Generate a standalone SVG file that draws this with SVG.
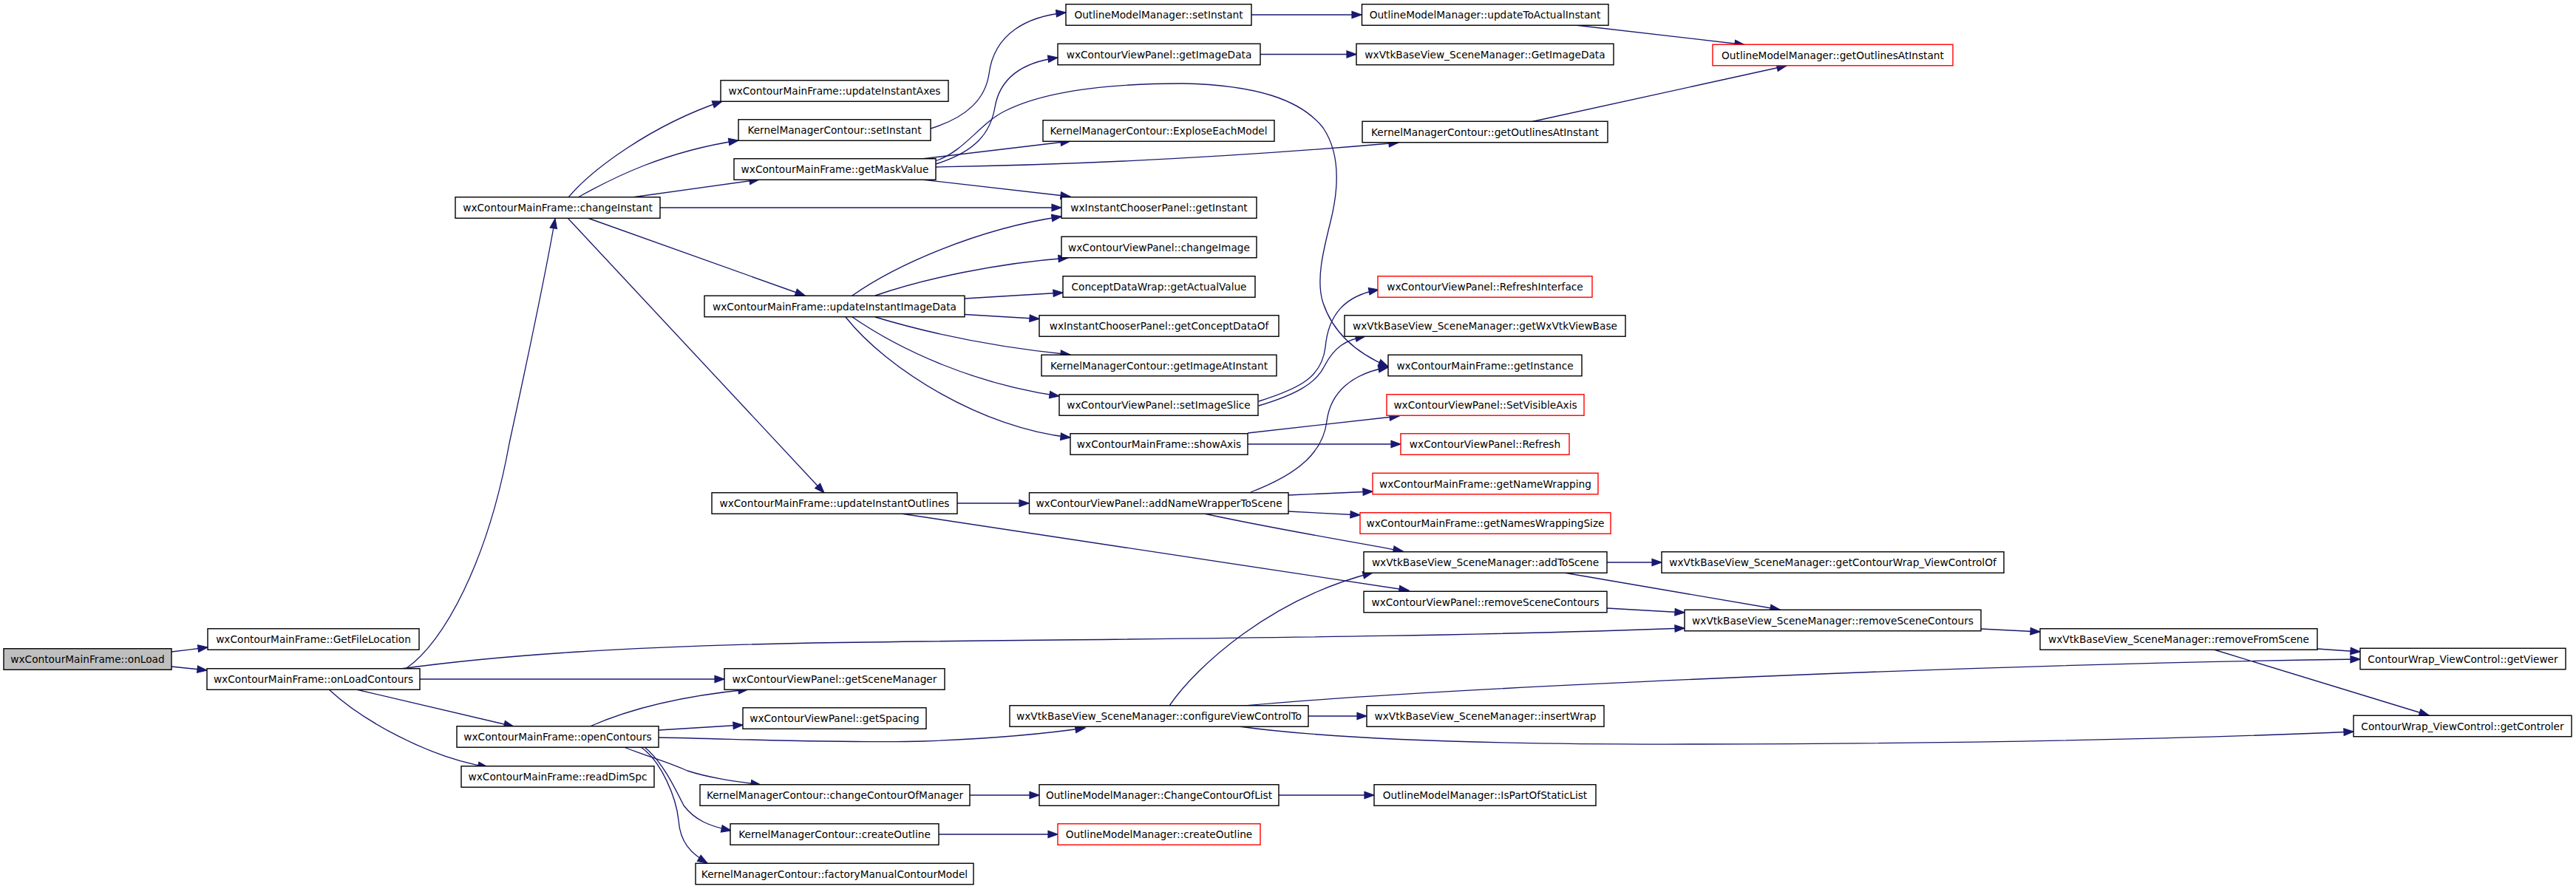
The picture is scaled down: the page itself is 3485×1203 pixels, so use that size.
<svg xmlns="http://www.w3.org/2000/svg" width="3485" height="1203" viewBox="0 0 3485 1203">
<defs>
<marker id="arr" markerUnits="userSpaceOnUse" markerWidth="16" markerHeight="12" viewBox="0 0 16 12" refX="14" refY="6" orient="auto" overflow="visible">
<path d="M1,1.3 L14,6 L1,10.7 z" fill="#191970" stroke="#191970" stroke-width="1.2"/>
</marker>
<style>
.n rect{fill:#ffffff;stroke:#000000;stroke-width:1.4}
.n.red rect{stroke:#ff0000}
.n.root rect{fill:#bfbfbf}
.n text{font-family:"DejaVu Sans",sans-serif;font-size:13.7px;fill:#000;text-anchor:middle}
#edges path{fill:none;stroke:#191970;stroke-width:1.33;marker-end:url(#arr)}
</style>
</defs>
<rect width="3485" height="1203" fill="#ffffff"/>
<g id="edges">
<path d="M232,882 L281,876"/>
<path d="M232,902 L280,907"/>
<path d="M550,904 C600,870 660,760 689,600 C715,480 740,360 751,296"/>
<path d="M568,919 L980,919"/>
<path d="M542,905 C680,886 850,875 1100,870 C1500,864 1900,864 2279,850"/>
<path d="M482,933 L695,983"/>
<path d="M445,933 C490,975 580,1025 660,1038"/>
<path d="M769,267 C800,230 880,170 977,137"/>
<path d="M782,267 C830,240 900,205 999,190"/>
<path d="M855,267 L1027,243"/>
<path d="M893,281 L1436,281"/>
<path d="M795,295 L1089,400"/>
<path d="M768,295 L1115,667"/>
<path d="M1259,174 C1310,158 1333,133 1338,100 C1345,45 1390,22 1442,17"/>
<path d="M1266,222 C1320,205 1340,180 1346,145 C1352,110 1378,85 1431,78"/>
<path d="M1265,218 C1305,205 1325,167 1360,150 C1420,120 1520,113 1600,113 C1700,115 1760,135 1790,173 C1815,210 1810,260 1800,300 C1790,340 1780,380 1790,410 C1805,455 1840,480 1878,496"/>
<path d="M1247,215 L1448,191"/>
<path d="M1266,226 C1500,222 1700,210 1892,193"/>
<path d="M1247,243 L1448,266"/>
<path d="M1705,73.5 L1835,73.5"/>
<path d="M1693,20 L1842,20"/>
<path d="M2131,34 L2360,60.5"/>
<path d="M2073,164.5 L2417,89"/>
<path d="M1153,400 C1210,360 1320,310 1436,293"/>
<path d="M1184,400 C1250,377 1350,356 1445,349"/>
<path d="M1305,404 L1438,396"/>
<path d="M1305,425.5 L1406,431.5"/>
<path d="M1184,429 C1260,452 1350,470 1448,480"/>
<path d="M1153,429 C1220,475 1320,520 1433,536"/>
<path d="M1144,429 C1200,500 1330,580 1448,592"/>
<path d="M1703,543 C1760,525 1788,510 1793,470 C1797,425 1820,400 1865,392"/>
<path d="M1703,549 C1750,535 1780,520 1792,495 C1805,470 1820,460 1847,455"/>
<path d="M1688,586 L1893,563"/>
<path d="M1688,601 L1895,601"/>
<path d="M1295,681 L1392,681"/>
<path d="M1219,695 L1906,799"/>
<path d="M1743,670 L1857,665"/>
<path d="M1743,692 L1840,697"/>
<path d="M1629,695 C1720,715 1830,733 1898,746"/>
<path d="M1692,666 C1760,640 1790,610 1795,570 C1800,530 1830,505 1878,497"/>
<path d="M1582,955 C1620,900 1720,810 1857,775"/>
<path d="M1684,955 C1900,935 2600,900 3193,892"/>
<path d="M1770,969 L1849,969"/>
<path d="M1676,983 C1800,1000 2000,1008 2300,1007 C2700,1006 3000,998 3184,990"/>
<path d="M2174,761 L2248,761"/>
<path d="M2116,775 L2408,825"/>
<path d="M2174,823 L2279,829"/>
<path d="M2680,851 L2760,855"/>
<path d="M3135,878 L3193,882"/>
<path d="M2995,879 L3286,968"/>
<path d="M798,983 C850,960 920,942 1012,933"/>
<path d="M891,988 L1005,981"/>
<path d="M891,998 C1000,1000 1150,1006 1250,1003 C1330,1000 1400,995 1468,985"/>
<path d="M844,1011 C880,1025 900,1030 930,1043 C960,1053 1000,1058 1029,1062"/>
<path d="M872,1011 C895,1030 910,1060 925,1090 C940,1110 960,1118 989,1124"/>
<path d="M867,1011 C895,1030 915,1080 918,1110 C920,1140 935,1155 957,1168"/>
<path d="M1312,1076 L1406,1076"/>
<path d="M1730,1076 L1859,1076"/>
<path d="M1270,1129 L1431,1129"/>
</g>
<g id="onLoad" class="n root"><rect x="5" y="877.75" width="227" height="28.5"/><text x="118.5" y="897">wxContourMainFrame::onLoad</text></g>
<g id="GetFileLocation" class="n"><rect x="281" y="850.75" width="286" height="28.5"/><text x="424" y="870">wxContourMainFrame::GetFileLocation</text></g>
<g id="onLoadContours" class="n"><rect x="280" y="904.75" width="288" height="28.5"/><text x="424" y="924">wxContourMainFrame::onLoadContours</text></g>
<g id="changeInstant" class="n"><rect x="616" y="266.75" width="277" height="28.5"/><text x="754.5" y="286">wxContourMainFrame::changeInstant</text></g>
<g id="openContours" class="n"><rect x="618" y="982.75" width="273" height="28.5"/><text x="754.5" y="1002">wxContourMainFrame::openContours</text></g>
<g id="readDimSpc" class="n"><rect x="624" y="1036.75" width="261" height="28.5"/><text x="754.5" y="1056">wxContourMainFrame::readDimSpc</text></g>
<g id="updateInstantAxes" class="n"><rect x="975" y="108.75" width="308" height="28.5"/><text x="1129" y="128">wxContourMainFrame::updateInstantAxes</text></g>
<g id="kmcSetInstant" class="n"><rect x="999" y="161.75" width="260" height="28.5"/><text x="1129" y="181">KernelManagerContour::setInstant</text></g>
<g id="getMaskValue" class="n"><rect x="993" y="214.75" width="273" height="28.5"/><text x="1129.5" y="234">wxContourMainFrame::getMaskValue</text></g>
<g id="updateInstantImageData" class="n"><rect x="953" y="400.25" width="352" height="28.5"/><text x="1129" y="419.5">wxContourMainFrame::updateInstantImageData</text></g>
<g id="updateInstantOutlines" class="n"><rect x="963" y="666.75" width="332" height="28.5"/><text x="1129" y="686">wxContourMainFrame::updateInstantOutlines</text></g>
<g id="getSceneManager" class="n"><rect x="980" y="904.75" width="298" height="28.5"/><text x="1129" y="924">wxContourViewPanel::getSceneManager</text></g>
<g id="getSpacing" class="n"><rect x="1005" y="957.75" width="248" height="28.5"/><text x="1129" y="977">wxContourViewPanel::getSpacing</text></g>
<g id="changeContourOfManager" class="n"><rect x="947" y="1061.75" width="365" height="28.5"/><text x="1129.5" y="1081">KernelManagerContour::changeContourOfManager</text></g>
<g id="kmcCreateOutline" class="n"><rect x="988" y="1114.75" width="282" height="28.5"/><text x="1129" y="1134">KernelManagerContour::createOutline</text></g>
<g id="factoryManualContourModel" class="n"><rect x="941" y="1168.25" width="376" height="28.5"/><text x="1129" y="1187.5">KernelManagerContour::factoryManualContourModel</text></g>
<g id="ommSetInstant" class="n"><rect x="1442" y="5.75" width="251" height="28.5"/><text x="1567.5" y="25">OutlineModelManager::setInstant</text></g>
<g id="getImageData" class="n"><rect x="1431" y="59.25" width="274" height="28.5"/><text x="1568" y="78.5">wxContourViewPanel::getImageData</text></g>
<g id="ExploseEachModel" class="n"><rect x="1411" y="162.75" width="313" height="28.5"/><text x="1567.5" y="182">KernelManagerContour::ExploseEachModel</text></g>
<g id="getInstant" class="n"><rect x="1436" y="266.75" width="264" height="28.5"/><text x="1568" y="286">wxInstantChooserPanel::getInstant</text></g>
<g id="changeImage" class="n"><rect x="1436" y="320.25" width="264" height="28.5"/><text x="1568" y="339.5">wxContourViewPanel::changeImage</text></g>
<g id="getActualValue" class="n"><rect x="1438" y="373.75" width="260" height="28.5"/><text x="1568" y="393">ConceptDataWrap::getActualValue</text></g>
<g id="getConceptDataOf" class="n"><rect x="1406" y="426.75" width="324" height="28.5"/><text x="1568" y="446">wxInstantChooserPanel::getConceptDataOf</text></g>
<g id="getImageAtInstant" class="n"><rect x="1409" y="480.25" width="318" height="28.5"/><text x="1568" y="499.5">KernelManagerContour::getImageAtInstant</text></g>
<g id="setImageSlice" class="n"><rect x="1433" y="533.75" width="269" height="28.5"/><text x="1567.5" y="553">wxContourViewPanel::setImageSlice</text></g>
<g id="showAxis" class="n"><rect x="1448" y="586.75" width="240" height="28.5"/><text x="1568" y="606">wxContourMainFrame::showAxis</text></g>
<g id="addNameWrapperToScene" class="n"><rect x="1392.5" y="666.75" width="350.5" height="28.5"/><text x="1568" y="686">wxContourViewPanel::addNameWrapperToScene</text></g>
<g id="configureViewControlTo" class="n"><rect x="1366" y="954.75" width="404" height="28.5"/><text x="1568" y="974">wxVtkBaseView_SceneManager::configureViewControlTo</text></g>
<g id="ChangeContourOfList" class="n"><rect x="1406" y="1061.75" width="324" height="28.5"/><text x="1568" y="1081">OutlineModelManager::ChangeContourOfList</text></g>
<g id="ommCreateOutline" class="n red"><rect x="1431" y="1114.75" width="274" height="28.5"/><text x="1568" y="1134">OutlineModelManager::createOutline</text></g>
<g id="updateToActualInstant" class="n"><rect x="1842.5" y="5.75" width="333.5" height="28.5"/><text x="2009" y="25">OutlineModelManager::updateToActualInstant</text></g>
<g id="smGetImageData" class="n"><rect x="1835" y="59.25" width="348" height="28.5"/><text x="2009" y="78.5">wxVtkBaseView_SceneManager::GetImageData</text></g>
<g id="kmcGetOutlinesAtInstant" class="n"><rect x="1843" y="164.25" width="332" height="28.5"/><text x="2009" y="183.5">KernelManagerContour::getOutlinesAtInstant</text></g>
<g id="RefreshInterface" class="n red"><rect x="1864" y="373.75" width="290" height="28.5"/><text x="2009" y="393">wxContourViewPanel::RefreshInterface</text></g>
<g id="getWxVtkViewBase" class="n"><rect x="1819" y="426.75" width="380" height="28.5"/><text x="2009" y="446">wxVtkBaseView_SceneManager::getWxVtkViewBase</text></g>
<g id="getInstance" class="n"><rect x="1878" y="480.25" width="262" height="28.5"/><text x="2009" y="499.5">wxContourMainFrame::getInstance</text></g>
<g id="SetVisibleAxis" class="n red"><rect x="1876" y="533.75" width="267" height="28.5"/><text x="2009.5" y="553">wxContourViewPanel::SetVisibleAxis</text></g>
<g id="Refresh" class="n red"><rect x="1895" y="586.75" width="228" height="28.5"/><text x="2009" y="606">wxContourViewPanel::Refresh</text></g>
<g id="getNameWrapping" class="n red"><rect x="1857" y="640.25" width="305" height="28.5"/><text x="2009.5" y="659.5">wxContourMainFrame::getNameWrapping</text></g>
<g id="getNamesWrappingSize" class="n red"><rect x="1840" y="693.75" width="339" height="28.5"/><text x="2009.5" y="713">wxContourMainFrame::getNamesWrappingSize</text></g>
<g id="addToScene" class="n"><rect x="1845" y="746.75" width="329" height="28.5"/><text x="2009.5" y="766">wxVtkBaseView_SceneManager::addToScene</text></g>
<g id="panelRemoveSceneContours" class="n"><rect x="1845" y="800.25" width="329" height="28.5"/><text x="2009.5" y="819.5">wxContourViewPanel::removeSceneContours</text></g>
<g id="insertWrap" class="n"><rect x="1849" y="954.75" width="321" height="28.5"/><text x="2009.5" y="974">wxVtkBaseView_SceneManager::insertWrap</text></g>
<g id="IsPartOfStaticList" class="n"><rect x="1859" y="1061.75" width="300" height="28.5"/><text x="2009" y="1081">OutlineModelManager::IsPartOfStaticList</text></g>
<g id="ommGetOutlinesAtInstant" class="n red"><rect x="2317" y="60.25" width="325" height="28.5"/><text x="2479.5" y="79.5">OutlineModelManager::getOutlinesAtInstant</text></g>
<g id="getContourWrap_ViewControlOf" class="n"><rect x="2248" y="746.75" width="463" height="28.5"/><text x="2479.5" y="766">wxVtkBaseView_SceneManager::getContourWrap_ViewControlOf</text></g>
<g id="smRemoveSceneContours" class="n"><rect x="2279" y="825.25" width="401" height="28.5"/><text x="2479.5" y="844.5">wxVtkBaseView_SceneManager::removeSceneContours</text></g>
<g id="removeFromScene" class="n"><rect x="2760" y="850.75" width="375" height="28.5"/><text x="2947.5" y="870">wxVtkBaseView_SceneManager::removeFromScene</text></g>
<g id="getViewer" class="n"><rect x="3193" y="877.25" width="278" height="28.5"/><text x="3332" y="896.5">ContourWrap_ViewControl::getViewer</text></g>
<g id="getControler" class="n"><rect x="3184" y="968.25" width="295" height="28.5"/><text x="3331.5" y="987.5">ContourWrap_ViewControl::getControler</text></g>
</svg>
